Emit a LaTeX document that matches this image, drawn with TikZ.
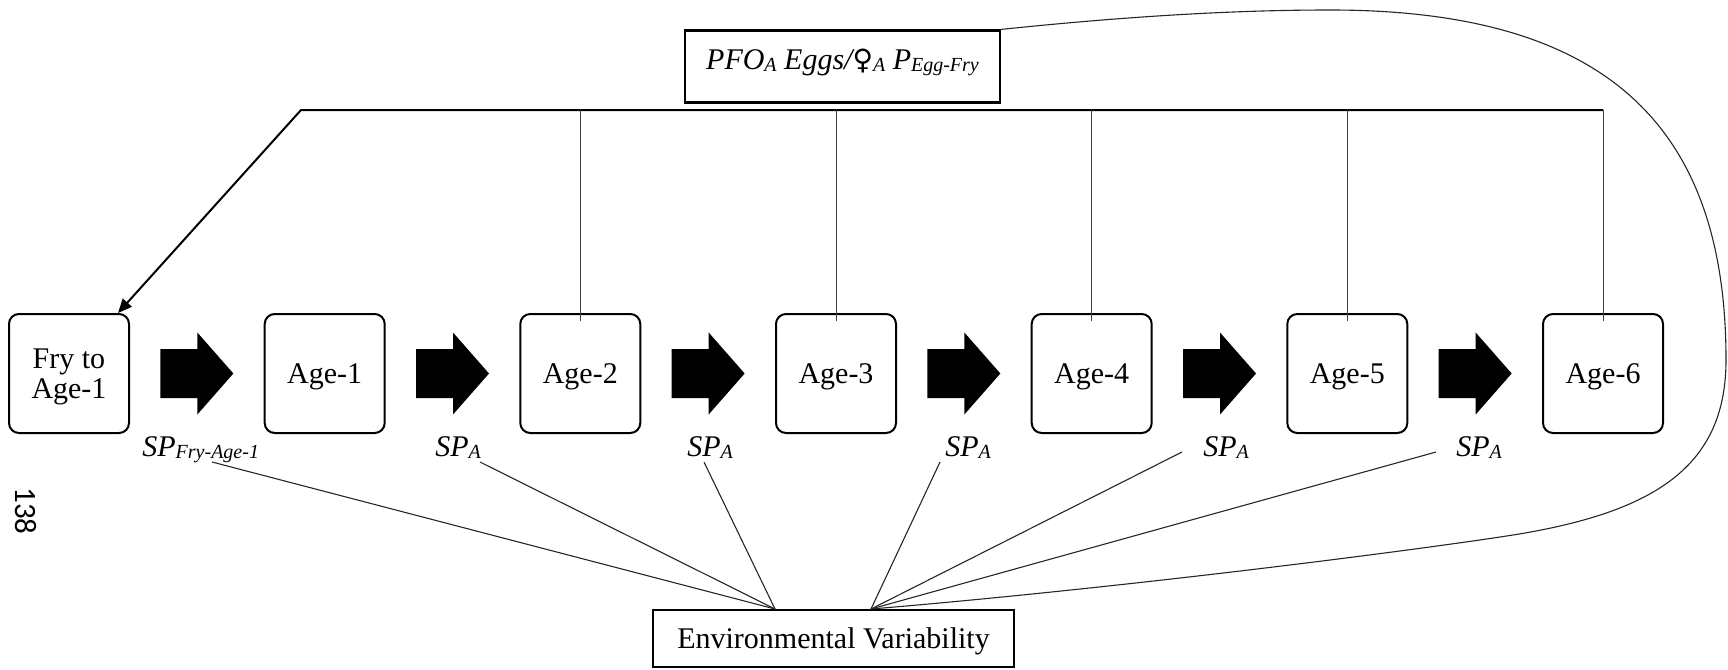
\documentclass[tikz,border=0pt]{standalone}
\usepackage{fontspec}
\setmainfont{Liberation Serif}
\newfontfamily\pagefont{Carlito}
\newfontfamily\signfont{DejaVu Sans}
\usetikzlibrary{calc,arrows.meta}
% slightly lowered, smaller subscript as set in the text
\newcommand{\lowsub}[1]{\raisebox{-1pt}{\fontsize{10pt}{10pt}\selectfont #1}}

\begin{document}
\begin{tikzpicture}[x=0.5pt,y=-0.5pt,
  every node/.style={font=\fontsize{15pt}{15pt}\selectfont},
  stage/.style={draw, line width=1pt, rounded corners=5pt, minimum width=60pt,
    minimum height=59.5pt, inner sep=0pt, align=center, text depth=0pt},
  framed/.style={draw, line width=1.2pt, inner sep=0pt},
  splabel/.style={anchor=base west, inner sep=0pt,
    font=\fontsize{15pt}{15pt}\selectfont\itshape},
  bus/.style={line width=1pt},
  drop/.style={line width=0.5pt, black!75},
  envline/.style={line width=0.55pt, black!85},
  loopline/.style={line width=0.55pt, black!85},
  blockarrow/.pic={
    \fill (-18.25pt,-12.25pt) -- (0.25pt,-12.25pt) -- (0.25pt,-20.5pt)
      -- (18.25pt,0pt) -- (0.25pt,20.5pt) -- (0.25pt,12.25pt)
      -- (-18.25pt,12.25pt) -- cycle;
  }
]
\useasboundingbox (0,0) rectangle (1728,669);

% page number
\node[font=\pagefont\fontsize{15.5pt}{15.5pt}\selectfont, rotate=-90, inner sep=0pt]
  (pg) at (26,511) {138};

% fecundity box
\node[framed, anchor=base, minimum width=157.5pt, text height=19.2pt, text depth=16.7pt,
  font=\fontsize{15pt}{15pt}\selectfont\itshape] (pfo) at (842.5,69)
  {PFO\lowsub{A} Eggs/{\signfont\upshape\fontsize{14pt}{14pt}\selectfont ♀}\lowsub{A} P\lowsub{Egg-Fry}};

% age classes
\node[stage] (f)  at (69,373.5)     {Fry to\\Age-1};
\node[stage] (a1) at (324.7,373.5)  {Age-1};
\node[stage] (a2) at (580.3,373.5)  {Age-2};
\node[stage] (a3) at (836,373.5)    {Age-3};
\node[stage] (a4) at (1091.7,373.5) {Age-4};
\node[stage] (a5) at (1347.3,373.5) {Age-5};
\node[stage] (a6) at (1603,373.5)   {Age-6};

% transitions between age classes
\pic at ($(f.east)!0.5!(a1.west)$)  {blockarrow};
\pic at ($(a1.east)!0.5!(a2.west)$) {blockarrow};
\pic at ($(a2.east)!0.5!(a3.west)$) {blockarrow};
\pic at ($(a3.east)!0.5!(a4.west)$) {blockarrow};
\pic at ($(a4.east)!0.5!(a5.west)$) {blockarrow};
\pic at ($(a5.east)!0.5!(a6.west)$) {blockarrow};

% survival probabilities
\node[splabel] (s1) at (142,456)  {SP\lowsub{Fry-Age-1}};
\node[splabel] (s2) at (435,456)  {SP\lowsub{A}};
\node[splabel] (s3) at (687,456)  {SP\lowsub{A}};
\node[splabel] (s4) at (945,456)  {SP\lowsub{A}};
\node[splabel] (s5) at (1203,456) {SP\lowsub{A}};
\node[splabel] (s6) at (1456,456) {SP\lowsub{A}};

% environment box
\node[framed, minimum width=180.3pt, minimum height=28.3pt, text height=10.5pt,
  text depth=0.5pt] (env) at (833.5,638.5) {Environmental Variability};

% reproduction feedback bus
\coordinate (busL) at (301,110);
\coordinate (busR) at (a6 |- busL);
\draw[bus, -{Triangle[length=7pt,width=6pt]}]
  (busR) -- (busL) -- ($(f.north east)+(-12,0)$);
\foreach \n in {a2,a3,a4,a5,a6}
  \draw[drop] (\n |- busL) -- ($(\n.north)+(0,8)$);

% environmental links
\coordinate (eL) at ($(env.north)+(-58.5,0)$);
\coordinate (eR) at ($(env.north)+(37.5,0)$);
\draw[envline] ($(s1.base west)+(70,6)$) -- (eL);
\draw[envline] ($(s2.base west)+(45,6)$) -- (eL);
\draw[envline] ($(s3.base west)+(17,6)$) -- (eL);
\draw[envline] ($(s4.base west)+(-5,6)$) -- (eR);
\draw[envline] ($(s5.base west)+(-21,-4)$) -- (eR);
\draw[envline] ($(s6.base west)+(-20,-4)$) -- (eR);

% link from fecundity round to the environment
\draw[loopline] (pfo.north east)
  .. controls (1120,17) and (1230,10) .. (1330,10)
  .. controls (1600,10) and (1726,120) .. (1726,360)
  .. controls (1726,470) and (1650,515) .. (1500,537)
  .. controls (1380,555) and (1100,590) .. (eR);
\end{tikzpicture}
\end{document}
